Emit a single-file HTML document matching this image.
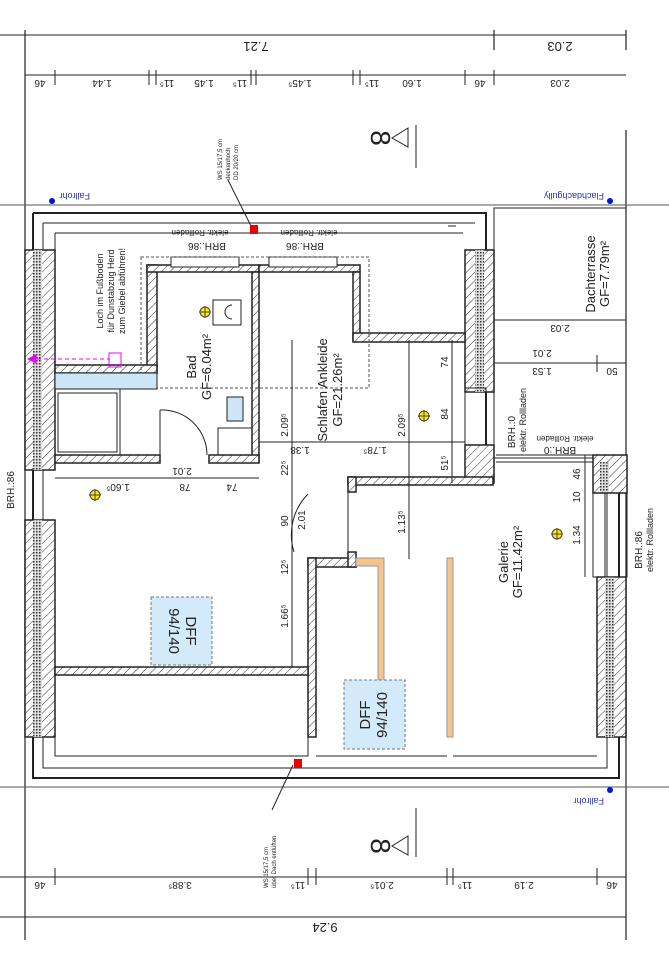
<!DOCTYPE html>
<html><head><meta charset="utf-8"><style>
html,body{margin:0;padding:0;background:#fff}
svg{display:block}
text{font-family:"Liberation Sans",sans-serif;fill:#222}
</style></head><body>
<svg width="669" height="960" viewBox="0 0 669 960" xmlns="http://www.w3.org/2000/svg">
<defs>
<pattern id="h" width="6" height="6" patternUnits="userSpaceOnUse" patternTransform="rotate(45)">
<rect width="6" height="6" fill="#fff"/><line x1="0" y1="0" x2="0" y2="6" stroke="#333" stroke-width="1"/></pattern>
<pattern id="hx" width="3" height="3" patternUnits="userSpaceOnUse">
<rect width="3" height="3" fill="#ddd"/><rect width="1.5" height="1.5" fill="#333"/></pattern>
</defs>
<g stroke="#222" fill="none" stroke-width="1">
<line x1="0" y1="35" x2="626" y2="35"/><line x1="25" y1="75" x2="626" y2="75"/>
<g stroke-width="1.2">
<line x1="25" y1="30" x2="25" y2="940"/><line x1="626" y1="30" x2="626" y2="50"/><line x1="494" y1="30" x2="494" y2="50"/>
<line x1="626" y1="130" x2="626" y2="940"/>
</g>
<g>
<line x1="55" y1="70" x2="55" y2="85"/><line x1="149" y1="70" x2="149" y2="85"/><line x1="156" y1="70" x2="156" y2="85"/>
<line x1="251" y1="70" x2="251" y2="85"/><line x1="256" y1="70" x2="256" y2="85"/><line x1="353" y1="70" x2="353" y2="85"/>
<line x1="360" y1="70" x2="360" y2="85"/><line x1="465" y1="70" x2="465" y2="85"/><line x1="494" y1="70" x2="494" y2="85"/>
</g>
<line x1="0" y1="205" x2="669" y2="205" stroke="#555"/>
<line x1="0" y1="787" x2="669" y2="787" stroke="#555"/>
<line x1="0" y1="877" x2="626" y2="877"/><line x1="0" y1="917" x2="626" y2="917"/>
<g>
<line x1="55" y1="868" x2="55" y2="885"/><line x1="308" y1="868" x2="308" y2="885"/><line x1="316" y1="868" x2="316" y2="885"/>
<line x1="447" y1="868" x2="447" y2="885"/><line x1="453" y1="868" x2="453" y2="885"/><line x1="597" y1="868" x2="597" y2="885"/>
</g>
<line x1="416" y1="125" x2="416" y2="168"/><path d="M408,128 L392,138 L408,147 Z"/>
<line x1="416" y1="808" x2="416" y2="857"/><path d="M408,836 L392,846 L408,855 Z"/>
<path d="M33,213 H486 V460 M33,213 V778 H619 V460" stroke-width="2"/>
<path d="M43,223 H475 M43,223 V768 H607 V490" />
<path d="M55,233 H463 M55,233 V250"/>
<line x1="448" y1="226" x2="456" y2="226"/>
<rect x="494" y="208" width="132" height="250"/>
<line x1="490" y1="320" x2="626" y2="320"/><line x1="490" y1="363" x2="626" y2="363"/>
<line x1="597" y1="355" x2="597" y2="372"/>
<rect x="25" y="250" width="30" height="220" fill="url(#h)" stroke-width="1.5"/>
<rect x="33" y="250" width="9" height="220" fill="url(#hx)" stroke="none"/>
<rect x="25" y="520" width="30" height="217" fill="url(#h)" stroke-width="1.5"/>
<rect x="33" y="520" width="9" height="217" fill="url(#hx)" stroke="none"/>
<rect x="465" y="250" width="29" height="142" fill="url(#h)" stroke-width="1.5"/>
<rect x="475" y="250" width="9" height="142" fill="url(#hx)" stroke="none"/>
<rect x="465" y="445" width="29" height="38" fill="url(#h)" stroke-width="1.5"/>
<rect x="593" y="455" width="34" height="38" fill="url(#h)" stroke-width="1.5"/>
<rect x="600" y="462" width="9" height="30" fill="url(#hx)" stroke="none"/>
<rect x="597" y="577" width="29" height="160" fill="url(#h)" stroke-width="1.5"/>
<rect x="605" y="577" width="9" height="160" fill="url(#hx)" stroke="none"/>
<rect x="593" y="493" width="34" height="84"/><line x1="605" y1="493" x2="605" y2="577"/>
<rect x="465" y="388" width="21" height="57"/>
<line x1="496" y1="455" x2="593" y2="455"/><line x1="496" y1="462" x2="593" y2="462"/>
<g fill="url(#h)" stroke-width="1.5">
<rect x="147" y="265" width="10" height="108"/>
<rect x="147" y="265" width="112" height="7"/>
<rect x="259" y="265" width="101" height="7"/>
<rect x="252" y="272" width="7" height="190"/>
<rect x="353" y="272" width="7" height="68"/>
<rect x="353" y="333" width="112" height="9"/>
<rect x="55" y="365" width="102" height="8"/>
<rect x="55" y="455" width="105" height="8"/>
<rect x="209" y="455" width="50" height="8"/>
<rect x="348" y="477" width="145" height="8"/>
<rect x="348" y="477" width="8" height="15"/>
<rect x="308" y="558" width="48" height="9"/>
<rect x="348" y="552" width="8" height="15"/>
<rect x="308" y="558" width="8" height="179"/>
<rect x="55" y="667" width="253" height="8"/>
</g>
<rect x="171" y="257" width="68" height="10" fill="#fff"/>
<rect x="269" y="257" width="68" height="10" fill="#fff"/>
<rect x="141" y="257" width="228" height="131" stroke-dasharray="3,2" stroke="#555"/>
<rect x="55" y="675" width="253" height="81"/>
<path d="M316,756 H447 M453,756 H597"/>
<line x1="348" y1="492" x2="348" y2="552"/>
<path d="M308,494 A58,58 0 0 0 294,552" />
<path d="M160,410 A45,45 0 0 1 207,455"/><line x1="160" y1="410" x2="160" y2="455"/>
<rect x="55" y="373" width="102" height="16" fill="#cce6f7"/>
<rect x="58" y="393" width="59" height="59"/><rect x="55" y="389" width="65" height="66"/>
<rect x="218" y="428" width="34" height="27"/><rect x="227" y="397" width="16" height="24" fill="#cce6f7"/>
<rect x="213" y="300" width="28" height="25"/><path d="M232,305 a6,6 0 1 0 0,14"/>
<path d="M356,558 H384 V690 H378 V566 H356 Z" fill="#f4c38e" stroke="#999"/>
<rect x="447" y="558" width="6" height="179" fill="#f4c38e" stroke="#999"/>
<rect x="151" y="597" width="61" height="68" fill="#d3eafa" stroke="#777" stroke-dasharray="3,2"/>
<rect x="344" y="680" width="61" height="69" fill="#d3eafa" stroke="#777" stroke-dasharray="3,2"/>
<line x1="292" y1="340" x2="292" y2="667"/><line x1="409" y1="340" x2="409" y2="559"/>
<line x1="452" y1="340" x2="452" y2="483"/><line x1="259" y1="442" x2="465" y2="442"/>
<line x1="55" y1="478" x2="259" y2="478"/>
<line x1="585" y1="455" x2="585" y2="577"/>
<line x1="30" y1="359" x2="110" y2="359" stroke="#e0f" stroke-dasharray="4,3"/>
<rect x="109" y="353" width="12" height="14" stroke="#e0f"/>
<path d="M28,359 L36,355 L36,363 Z" fill="#e0f" stroke="#e0f"/>
<line x1="228" y1="180" x2="252" y2="228"/><line x1="293" y1="765" x2="272" y2="810"/>
<line x1="160" y1="233" x2="170" y2="233"/><line x1="230" y1="233" x2="248" y2="233"/>
<line x1="260" y1="233" x2="278" y2="233"/><line x1="340" y1="233" x2="350" y2="233"/>
</g>
<rect x="250" y="225" width="8" height="9" fill="#e00"/>
<rect x="294" y="759" width="8" height="9" fill="#e00"/>
<g fill="#0016e0"><circle cx="52" cy="201" r="3"/><circle cx="610" cy="201" r="3"/><circle cx="610" cy="790" r="3"/></g>
<g stroke="#444" fill="#ffea00">
<circle cx="205" cy="312" r="5"/><circle cx="424" cy="416" r="5"/><circle cx="95" cy="495" r="5"/><circle cx="557" cy="534" r="5"/>
</g>
<g stroke="#444"><path d="M199,312h12M205,306v12M418,416h12M424,410v12M89,495h12M95,489v12M551,534h12M557,528v12"/></g>
<g font-size="13">
<text transform="translate(256,42) rotate(180)" text-anchor="middle">7.21</text>
<text transform="translate(560,42) rotate(180)" text-anchor="middle">2.03</text>
<text transform="translate(325,923) rotate(180)" text-anchor="middle">9.24</text>
</g>
<g font-size="10">
<text transform="translate(40,80) rotate(180)" text-anchor="middle">46</text>
<text transform="translate(102,80) rotate(180)" text-anchor="middle">1.44</text>
<text transform="translate(204,80) rotate(180)" text-anchor="middle">1.45</text>
<text transform="translate(300,80) rotate(180)" text-anchor="middle">1.45⁵</text>
<text transform="translate(412,80) rotate(180)" text-anchor="middle">1.60</text>
<text transform="translate(480,80) rotate(180)" text-anchor="middle">46</text>
<text transform="translate(560,80) rotate(180)" text-anchor="middle">2.03</text>
<text transform="translate(167,80) rotate(180)" text-anchor="middle">11⁵</text>
<text transform="translate(240,80) rotate(180)" text-anchor="middle">11⁵</text>
<text transform="translate(372,80) rotate(180)" text-anchor="middle">11⁵</text>
<text transform="translate(40,882) rotate(180)" text-anchor="middle">46</text>
<text transform="translate(180,882) rotate(180)" text-anchor="middle">3.88⁵</text>
<text transform="translate(298,882) rotate(180)" text-anchor="middle">11⁵</text>
<text transform="translate(382,882) rotate(180)" text-anchor="middle">2.01⁵</text>
<text transform="translate(465,882) rotate(180)" text-anchor="middle">11⁵</text>
<text transform="translate(524,882) rotate(180)" text-anchor="middle">2.19</text>
<text transform="translate(612,882) rotate(180)" text-anchor="middle">46</text>
<text transform="translate(560,325) rotate(180)" text-anchor="middle">2.03</text>
<text transform="translate(542,350) rotate(180)" text-anchor="middle">2.01</text>
<text transform="translate(542,368) rotate(180)" text-anchor="middle">1.53</text>
<text transform="translate(612,368) rotate(180)" text-anchor="middle">50</text>
<text transform="translate(182,468) rotate(180)" text-anchor="middle">2.01</text>
<text transform="translate(118,484) rotate(180)" text-anchor="middle">1.60⁵</text>
<text transform="translate(185,484) rotate(180)" text-anchor="middle">78</text>
<text transform="translate(232,484) rotate(180)" text-anchor="middle">74</text>
<text transform="translate(300,447) rotate(180)" text-anchor="middle">1.38</text>
<text transform="translate(375,447) rotate(180)" text-anchor="middle">1.78⁵</text>
<text transform="translate(207,243) rotate(180)" text-anchor="middle">BRH.:86</text>
<text transform="translate(305,243) rotate(180)" text-anchor="middle">BRH.:86</text>
<text transform="translate(560,447) rotate(180)" text-anchor="middle">BRH.:0</text>
</g>
<g font-size="8">
<text transform="translate(200,230) rotate(180)" text-anchor="middle">elektr. Rollladen</text>
<text transform="translate(309,230) rotate(180)" text-anchor="middle">elektr. Rollladen</text>
<text transform="translate(565,436) rotate(180)" text-anchor="middle">elektr. Rollladen</text>
</g>
<g font-size="9">
<text transform="translate(90,193) rotate(180)" style="fill:#2233bb">Fallrohr</text>
<text transform="translate(604,193) rotate(180)" style="fill:#2233bb">Flachdachgully</text>
<text transform="translate(604,798) rotate(180)" style="fill:#2233bb">Fallrohr</text>
</g>
<g font-size="28"><text transform="translate(371,138) rotate(90)" text-anchor="middle">8</text>
<text transform="translate(371,846) rotate(90)" text-anchor="middle">8</text></g>
<g font-size="13">
<text transform="translate(196,367) rotate(-90)" text-anchor="middle">Bad</text>
<text transform="translate(211,367) rotate(-90)" text-anchor="middle">GF=6.04m²</text>
<text transform="translate(327,390) rotate(-90)" text-anchor="middle">Schlafen Ankleide</text>
<text transform="translate(342,390) rotate(-90)" text-anchor="middle">GF=21.26m²</text>
<text transform="translate(508,562) rotate(-90)" text-anchor="middle">Galerie</text>
<text transform="translate(522,562) rotate(-90)" text-anchor="middle">GF=11.42m²</text>
<text transform="translate(595,274) rotate(-90)" text-anchor="middle">Dachterrasse</text>
<text transform="translate(609,274) rotate(-90)" text-anchor="middle">GF=7.79m²</text>
<text transform="translate(370,715) rotate(-90)" text-anchor="middle" font-size="15">DFF</text>
<text transform="translate(387,715) rotate(-90)" text-anchor="middle" font-size="15">94/140</text>
<text transform="translate(186,631) rotate(90)" text-anchor="middle" font-size="15">DFF</text>
<text transform="translate(169,631) rotate(90)" text-anchor="middle" font-size="15">94/140</text>
</g>
<g font-size="9">
<text transform="translate(103,291) rotate(-90)" text-anchor="middle">Loch im Fußboden</text>
<text transform="translate(114,291) rotate(-90)" text-anchor="middle">für Dunstabzug Herd</text>
<text transform="translate(125,291) rotate(-90)" text-anchor="middle">zum Giebel abführen!</text>
<text transform="translate(515,432) rotate(-90)" text-anchor="middle" font-size="10">BRH.:0</text>
<text transform="translate(526,420) rotate(-90)" text-anchor="middle">elektr. Rollladen</text>
<text transform="translate(642,550) rotate(-90)" text-anchor="middle" font-size="10">BRH.:86</text>
<text transform="translate(653,540) rotate(-90)" text-anchor="middle">elektr. Rollladen</text>
<text transform="translate(14,490) rotate(-90)" text-anchor="middle" font-size="10">BRH.:86</text>
</g>
<g font-size="6">
<text transform="translate(222,180) rotate(-90)">WS 15/17,5 cm</text>
<text transform="translate(230,180) rotate(-90)">deckenhoch</text>
<text transform="translate(238,180) rotate(-90)">DD 20/20 cm</text>
<text transform="translate(268,888) rotate(-90)">WS 15/17,5 cm</text>
<text transform="translate(276,888) rotate(-90)">über Dach entlüften</text>
</g>
<g font-size="10">
<text transform="translate(288,425) rotate(-90)" text-anchor="middle">2.09⁵</text>
<text transform="translate(405,425) rotate(-90)" text-anchor="middle">2.09⁵</text>
<text transform="translate(448,362) rotate(-90)" text-anchor="middle">74</text>
<text transform="translate(448,414) rotate(-90)" text-anchor="middle">84</text>
<text transform="translate(448,463) rotate(-90)" text-anchor="middle">51⁵</text>
<text transform="translate(288,468) rotate(-90)" text-anchor="middle">22⁵</text>
<text transform="translate(288,521) rotate(-90)" text-anchor="middle">90</text>
<text transform="translate(305,520) rotate(-90)" text-anchor="middle">2.01</text>
<text transform="translate(288,567) rotate(-90)" text-anchor="middle">12⁵</text>
<text transform="translate(288,616) rotate(-90)" text-anchor="middle">1.66⁵</text>
<text transform="translate(405,522) rotate(-90)" text-anchor="middle">1.13⁵</text>
<text transform="translate(580,474) rotate(-90)" text-anchor="middle">46</text>
<text transform="translate(580,497) rotate(-90)" text-anchor="middle">10</text>
<text transform="translate(580,535) rotate(-90)" text-anchor="middle">1.34</text>
</g>
</svg>
</body></html>
